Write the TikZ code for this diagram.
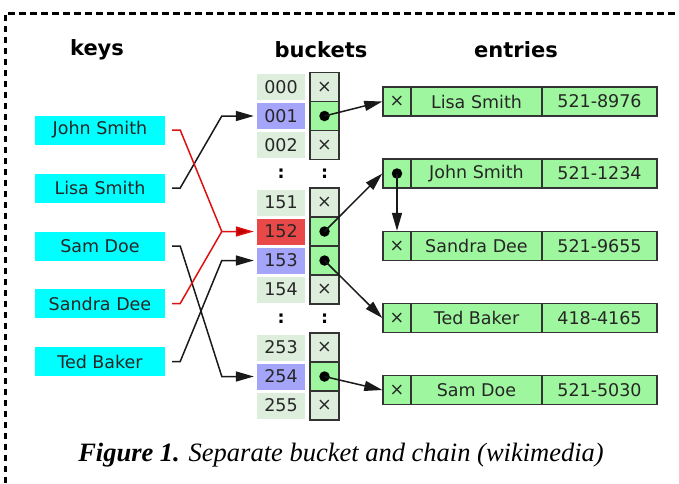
\documentclass[tikz,border=0pt]{standalone}
\usepackage{fontspec}
\setmainfont{DejaVu Sans}
\newfontfamily\capfont{Liberation Serif}
\usetikzlibrary{arrows.meta}

\definecolor{keyfill}{HTML}{00FFFF}
\definecolor{palegreen}{HTML}{DDEEDD}
\definecolor{cellgreen}{HTML}{9EF79E}
\definecolor{hitblue}{HTML}{A4A4F8}
\definecolor{hitred}{HTML}{E84848}
\definecolor{edgegray}{HTML}{333333}
\definecolor{redlink}{HTML}{DD1111}

\tikzset{
  txt/.style={font=\fontsize{17.5}{20}\selectfont, text=black!85},
  head/.style={font=\fontsize{21}{24}\selectfont\bfseries},
  keybox/.style={txt, fill=keyfill, minimum width=130pt, minimum height=29pt, inner sep=0pt},
  idx/.style={txt, minimum width=48pt, minimum height=26pt, inner sep=0pt},
  ptr/.style={txt, draw=edgegray, line width=1.4pt, minimum width=29pt, minimum height=29pt, inner sep=0pt},
  nullptr/.style={ptr, fill=palegreen},
  fullptr/.style={ptr, fill=cellgreen},
  ecell/.style={txt, draw=edgegray, line width=1.4pt, fill=cellgreen, minimum height=29pt, inner sep=0pt},
  link/.style={line width=1.5pt, draw=black!90, -{Triangle[length=18pt,width=10pt]}},
  redarrow/.style={link, draw=redlink, -{Triangle[length=18pt,width=10pt, fill=red!75!black]}},
  dotmark/.style={fill=black, circle, inner sep=0pt, minimum size=10.5pt},
  vdots/.style={font=\fontsize{17.5}{20}\selectfont\bfseries},
}

\begin{document}
\begin{tikzpicture}[x=1pt, y=-1pt]
  \useasboundingbox (0,0) rectangle (679,483);

  % dashed frame (top and left edges)
  \draw[line width=3pt, dash pattern=on 6.5pt off 4.5pt] (5,483) -- (5,13) -- (679,13);

  % column headings
  \node[head] (hkeys) at (97,50) {keys};
  \node[head] (hbuckets) at (321,50) {buckets};
  \node[head] (hentries) at (516,50) {entries};

  % keys
  \node[keybox] (kjohn)   at (100,130)   {John Smith};
  \node[keybox] (klisa)   at (100,188)   {Lisa Smith};
  \node[keybox] (ksam)    at (100,246)   {Sam Doe};
  \node[keybox] (ksandra) at (100,303.5) {Sandra Dee};
  \node[keybox] (kted)    at (100,361.5) {Ted Baker};

  % bucket indices
  \node[idx, fill=palegreen] (b000) at (281,87)    {000};
  \node[idx, fill=hitblue]   (b001) at (281,116)   {001};
  \node[idx, fill=palegreen] (b002) at (281,145)   {002};
  \node[idx, fill=palegreen] (b151) at (281,202.5) {151};
  \node[idx, fill=hitred]    (b152) at (281,231.5) {152};
  \node[idx, fill=hitblue]   (b153) at (281,260.5) {153};
  \node[idx, fill=palegreen] (b154) at (281,289.5) {154};
  \node[idx, fill=palegreen] (b253) at (281,347.5) {253};
  \node[idx, fill=hitblue]   (b254) at (281,376.5) {254};
  \node[idx, fill=palegreen] (b255) at (281,405.5) {255};

  % bucket pointer cells
  \node[nullptr] (p000) at (324.5,87)    {×};
  \node[fullptr] (p001) at (324.5,116)   {};
  \node[nullptr] (p002) at (324.5,145)   {×};
  \node[nullptr] (p151) at (324.5,202.5) {×};
  \node[fullptr] (p152) at (324.5,231.5) {};
  \node[fullptr] (p153) at (324.5,260.5) {};
  \node[nullptr] (p154) at (324.5,289.5) {×};
  \node[nullptr] (p253) at (324.5,347.5) {×};
  \node[fullptr] (p254) at (324.5,376.5) {};
  \node[nullptr] (p255) at (324.5,405.5) {×};

  % elided rows
  \node[vdots] (d1a) at (281,174) {:};
  \node[vdots] (d1b) at (324.5,174) {:};
  \node[vdots] (d2a) at (281,318.5) {:};
  \node[vdots] (d2b) at (324.5,318.5) {:};

  % entries: next pointer, name, number
  \foreach \id/\yy/\nm/\num in {lisa/101.5/Lisa Smith/521-8976,
                                john/173.5/John Smith/521-1234,
                                sandra/246/Sandra Dee/521-9655,
                                ted/318/Ted Baker/418-4165,
                                sam/390/Sam Doe/521-5030}{
    \node[ecell, minimum width=28pt]  (e\id p) at (397,\yy)   {};
    \node[ecell, minimum width=131pt] (e\id n) at (476.5,\yy) {\nm};
    \node[ecell, minimum width=115pt] (e\id t) at (599.5,\yy) {\num};
  }
  \node[txt] (xlisa)   at (elisap)   {×};
  \node[txt] (xsandra) at (esandrap) {×};
  \node[txt] (xted)    at (etedp)    {×};
  \node[txt] (xsam)    at (esamp)    {×};

  % pointer dots
  \node[dotmark] (q001) at (p001) {};
  \node[dotmark] (q152) at (p152) {};
  \node[dotmark] (q153) at (p153) {};
  \node[dotmark] (q254) at (p254) {};
  \node[dotmark] (qjohn) at (ejohnp) {};

  % hash function: keys to buckets
  \draw[link] ([xshift=7pt]klisa.east) -- ++(8,0) -- ([xshift=-35pt]b001.west) -- ([xshift=-3pt]b001.west);
  \draw[link] ([xshift=7pt]ksam.east) -- ++(8,0) -- ([xshift=-35pt]b254.west) -- ([xshift=-3pt]b254.west);
  \draw[link] ([xshift=7pt]kted.east) -- ++(8,0) -- ([xshift=-35pt]b153.west) -- ([xshift=-3pt]b153.west);
  \draw[line width=1.5pt, draw=redlink] ([xshift=7pt]ksandra.east) -- ++(8,0) -- ([xshift=-35pt]b152.west);
  \draw[redarrow] ([xshift=7pt]kjohn.east) -- ++(8,0) -- ([xshift=-35pt]b152.west) -- ([xshift=-3pt]b152.west);

  % buckets to chains
  \draw[link] (q001.center) -- (elisap.west);
  \draw[link] (q152.center) -- (ejohnp.west);
  \draw[link] (q153.center) -- (etedp.west);
  \draw[link] (q254.center) -- (esamp.west);
  \draw[link] (qjohn.center) -- (esandrap.north);

  % caption
  \node[font=\capfont\fontsize{26.5}{30}\selectfont] (cap) at (341,455)
    {\textbf{\textit{Figure 1.}} \textit{Separate bucket and chain (wikimedia)}};
\end{tikzpicture}
\end{document}
